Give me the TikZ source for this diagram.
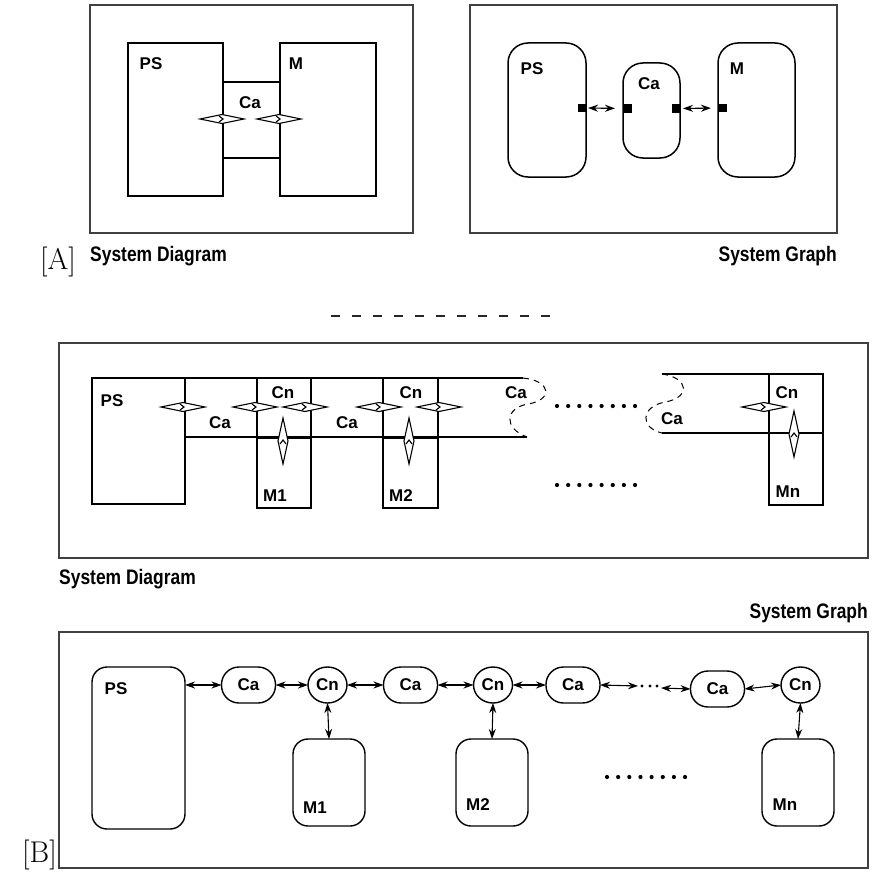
\documentclass[tikz,border=0pt]{standalone}
\usepackage{fontspec}
\newfontfamily\hb[FakeStretch=0.83]{Liberation Sans}
\newfontfamily\hl{Liberation Sans}
\usetikzlibrary{arrows.meta,calc,shapes.geometric}
\begin{document}
\begin{tikzpicture}[x=1pt,y=-1pt,
  frame/.style={draw=black!75, line width=1.3pt, inner sep=0pt, outer sep=0pt, anchor=north west},
  box/.style={draw, line width=2.6pt, inner sep=0pt, outer sep=0pt, anchor=north west},
  rbox/.style={draw, line width=1.5pt, inner sep=0pt, outer sep=0pt, anchor=north west, rounded corners=20pt},
  gbox/.style={draw, line width=1.4pt, inner sep=0pt, outer sep=0pt, anchor=north west, rounded corners=15pt},
  pill/.style={draw, line width=1.4pt, inner sep=0pt, outer sep=0pt, rounded corners=17.5pt, minimum width=54pt, minimum height=36pt, font=\hl\bfseries\fontsize{17}{19}\selectfont},
  cnode/.style={draw, ellipse, line width=1.4pt, inner sep=0pt, outer sep=0pt, minimum width=39pt, minimum height=36pt, font=\hl\bfseries\fontsize{17}{19}\selectfont},
  sq/.style={fill, minimum size=8.5pt, inner sep=0pt, outer sep=0pt},
  lab/.style={font=\hl\bfseries\fontsize{17}{19}\selectfont, inner sep=0pt},
  capt/.style={font=\hb\bfseries\fontsize{21}{24}\selectfont, inner sep=0pt},
  tag/.style={font=\fontsize{30}{34}\selectfont, inner sep=0pt},
  garr/.style={{Stealth[length=10pt,width=7pt]}-{Stealth[length=10pt,width=7pt]}, line width=1.1pt},
  hdia/.pic={\draw[line width=1.1pt,fill=white,line join=miter] (-22,0)--(0,-4.5)--(22,0)--(0,4.5)--cycle;
             \draw[line width=1.1pt] (-3,-3)--(1,0)--(-3,3);},
  vdia/.pic={\draw[line width=1.1pt,fill=white,line join=miter] (0,-23)--(5,0)--(0,23)--(-5,0)--cycle;
             \draw[line width=1.1pt] (-3,3)--(0,-1)--(3,3);},
  brk/.style={dashed, dash pattern=on 6pt off 5pt, line width=1pt}
]
\useasboundingbox (0,0) rectangle (872,880);

%% ---------------- [A] top-left: system diagram
\node[frame, minimum width=323pt, minimum height=228pt] (fA1) at (90,5) {};
\node[box, minimum width=95pt, minimum height=153pt] (psa) at (128,43) {};
\node[box, minimum width=96pt, minimum height=153pt] (ma) at (280,43) {};
\node[box, minimum width=57pt, minimum height=76pt] (caa) at (223,82) {};
\node[lab] (tpsa) at (151,64) {PS};
\node[lab] (tma) at (296,64) {M};
\node[lab] (tcaa) at (250,103) {Ca};
\pic at (222,119) {hdia};
\pic at (279,119) {hdia};
\node[capt, anchor=base west] (capA1) at (90,261) {System Diagram};
\node[tag, anchor=base west] (tagA) at (40,269) {[A]};

%% ---------------- [A] top-right: system graph
\node[frame, minimum width=367pt, minimum height=228pt] (fA2) at (470,5) {};
\node[rbox, minimum width=78pt, minimum height=134pt] (psg) at (508,43) {};
\node[rbox, minimum width=57pt, minimum height=95pt] (cag) at (623,63) {};
\node[rbox, minimum width=77pt, minimum height=134pt] (mg) at (718,43) {};
\node[lab] (tpsg) at (532,69) {PS};
\node[lab] (tcag) at (649,84) {Ca};
\node[lab] (tmg) at (737,69) {M};
\node[sq, anchor=east] (sq1) at ($(psg.east)+(0,-2)$) {};
\node[sq, anchor=west] (sq2) at ($(cag.west)+(0,-2)$) {};
\node[sq, anchor=east] (sq3) at ($(cag.east)+(0,-2)$) {};
\node[sq, anchor=west] (sq4) at ($(mg.west)+(0,-2)$) {};
\draw[garr, shorten <=2pt, shorten >=8pt] (sq1.east) -- (sq2.west);
\draw[garr, shorten <=3pt, shorten >=7pt] (sq3.east) -- (sq4.west);
\node[capt, anchor=base east] (capA2) at (837,261) {System Graph};

%% ---------------- separator
\draw[line width=2pt, black!85, dash pattern=on 9pt off 12pt] (331,316) -- (550,316);

%% ---------------- [B] system diagram
\node[frame, minimum width=809pt, minimum height=215pt] (fB1) at (59,343) {};
\coordinate (c1t) at (523,378);
\coordinate (c1b) at (527,437);
\coordinate (c2t) at (662,374);
\coordinate (c2b) at (662,433);
\node[box, minimum width=93pt, minimum height=126pt] (psm) at (92,378) {};
\node[box, minimum width=54pt, minimum height=130pt] (cn1) at (257,378) {};
\node[box, minimum width=55pt, minimum height=130pt] (cn2) at (383,378) {};
\node[box, minimum width=54pt, minimum height=131pt] (cnn) at (769,374) {};
\draw[line width=2.6pt] (psm.north east) -- (c1t);
\draw[line width=2pt] (psm.east |- c1b) -- (c1b);
\draw[line width=3pt] (cn1.west |- c1b) -- (cn1.east |- c1b);
\draw[line width=3pt] (cn2.west |- c1b) -- (cn2.east |- c1b);
\draw[line width=2.6pt] (c2t) -- (cnn.north west);
\draw[line width=2.4pt] (c2b) -- (cnn.east |- c2b);
\draw[brk] (c1t) .. controls (552,381) and (553,400) .. (528,404) .. controls (505,408) and (503,428) .. (c1b);
\draw[brk] (c2t) .. controls (690,378) and (690,398) .. (665,402) .. controls (640,407) and (640,428) .. (c2b);
\node[lab] (tpsm) at (112,401) {PS};
\node[lab] (tca1) at (220,423) {Ca};
\node[lab] (tcn1) at (283,393) {Cn};
\node[lab] (tm1) at (275,496) {M1};
\node[lab] (tca2) at (347,423) {Ca};
\node[lab] (tcn2) at (411,393) {Cn};
\node[lab] (tm2) at (401,496) {M2};
\node[lab] (tca3) at (516,393) {Ca};
\node[lab] (tca4) at (672,419) {Ca};
\node[lab] (tcnn) at (787,393) {Cn};
\node[lab] (tmn) at (788,492) {Mn};
\foreach \x in {183,255,305,379,439,764} {\pic at (\x,407) {hdia};}
\pic at (283,441) {vdia};
\pic at (409,441) {vdia};
\pic at (794,434) {vdia};
\foreach \i in {0,...,7} {
  \fill (557+\i*11.15,406) circle (2.1pt);
  \fill (557+\i*11.15,485) circle (2.1pt);
}
\node[capt, anchor=base west] (capB1) at (59,584) {System Diagram};

%% ---------------- [B] system graph
\node[capt, anchor=base east] (capB2) at (868,618) {System Graph};
\node[frame, minimum width=809pt, minimum height=236pt] (fB2) at (59,632) {};
\node[gbox, minimum width=93pt, minimum height=162pt] (psb) at (92,667) {};
\node[lab] (tpsb) at (116,689) {PS};
\node[pill] (ca1) at (248.5,685) {Ca};
\node[cnode] (gcn1) at (327.5,685) {Cn};
\node[pill] (ca2) at (410.5,685) {Ca};
\node[cnode] (gcn2) at (493,685) {Cn};
\node[pill] (ca3) at (573,685) {Ca};
\node[pill] (ca4) at (717.5,689) {Ca};
\node[cnode] (gcn3) at (800.5,685) {Cn};
\node[gbox, minimum width=72pt, minimum height=87pt] (m1) at (293,739) {};
\node[gbox, minimum width=72pt, minimum height=87pt] (m2) at (456,739) {};
\node[gbox, minimum width=72pt, minimum height=87pt] (mn) at (762,739) {};
\node[lab] (tm1b) at (315,808) {M1};
\node[lab] (tm2b) at (478,805) {M2};
\node[lab] (tmnb) at (785,805) {Mn};
\coordinate (d1) at (638,686);
\coordinate (d2) at (661,688);
\draw[garr] (psb.east |- ca1.west) -- (ca1.west);
\draw[garr] (ca1.east) -- (gcn1.west);
\draw[garr] (gcn1.east) -- (ca2.west);
\draw[garr] (ca2.east) -- (gcn2.west);
\draw[garr] (gcn2.east) -- (ca3.west);
\draw[garr] (ca3.east) -- (d1);
\draw[garr] (d2) -- (ca4.west);
\draw[garr] (ca4.east) -- (gcn3.west);
\draw[garr] (gcn1.south) -- (m1.north);
\draw[garr] (gcn2.south) -- (m2.north);
\draw[garr] (gcn3.south) -- (mn.north);
\foreach \x in {642,650,657} {\fill (\x,686) circle (1.6pt);}
\foreach \i in {0,...,7} {\fill (607+\i*11.15,777) circle (2.1pt);}
\node[tag, anchor=base east] (tagB) at (57,862) {[B]};
\end{tikzpicture}
\end{document}
